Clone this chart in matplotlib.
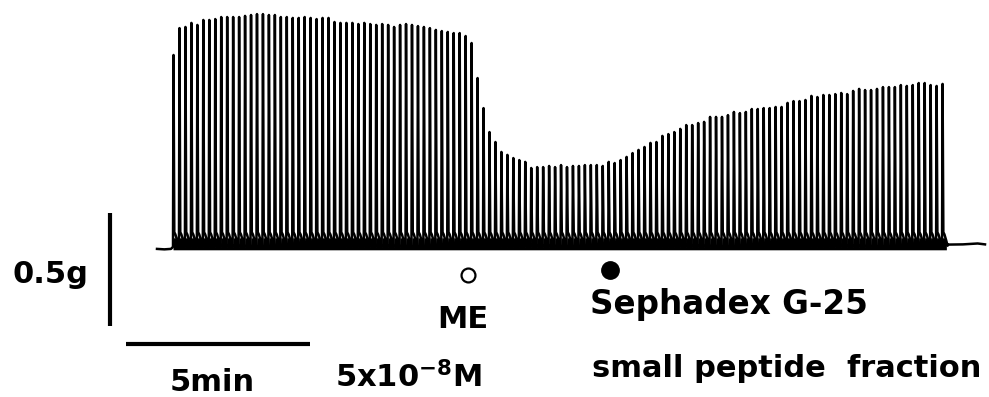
import numpy as np
import matplotlib.pyplot as plt

# peak amplitude of each twitch (g), one every 10 s
peak_g = [
    0.854, 0.973, 0.978, 0.996, 0.987, 1.009, 1.009, 1.013, 1.022, 1.022,
    1.022, 1.022, 1.027, 1.031, 1.035, 1.035, 1.031, 1.031, 1.022, 1.022,
    1.018, 1.018, 1.022, 1.018, 1.013, 1.018, 1.018, 1.000, 0.996, 0.996,
    0.996, 0.991, 0.996, 0.991, 0.987, 0.991, 0.987, 0.978, 0.987, 0.991,
    0.987, 0.982, 0.978, 0.973, 0.965, 0.960, 0.956, 0.951, 0.951, 0.938,
    0.907, 0.752, 0.619, 0.513, 0.469, 0.425, 0.412, 0.398, 0.389, 0.381,
    0.354, 0.358, 0.358, 0.363, 0.358, 0.367, 0.358, 0.363, 0.363, 0.367,
    0.367, 0.367, 0.363, 0.381, 0.376, 0.389, 0.403, 0.420, 0.434, 0.447,
    0.465, 0.469, 0.496, 0.504, 0.513, 0.527, 0.544, 0.544, 0.553, 0.558,
    0.580, 0.580, 0.580, 0.588, 0.602, 0.597, 0.602, 0.615, 0.615, 0.619,
    0.619, 0.624, 0.624, 0.642, 0.650, 0.650, 0.655, 0.673, 0.668, 0.677,
    0.677, 0.681, 0.686, 0.681, 0.695, 0.704, 0.699, 0.699, 0.704, 0.712,
    0.712, 0.712, 0.721, 0.717, 0.721, 0.730, 0.730, 0.721, 0.717, 0.726,
]
first_spike = 0.435   # min
period = 0.162        # min between stimuli

# resting tension before and after the train (min, g)
pre_t = [0.0, 0.2, 0.38]
pre_g = [-0.004, -0.006, -0.004]
post_t = [21.45, 21.9, 22.3, 22.5]
post_g = [0.015, 0.016, 0.020, 0.016]

me_time, me_level = 8.45, -0.119      # ME 5x10^-8 M
seph_time, seph_level = 12.31, -0.097  # Sephadex G-25 small peptide fraction

# build the pen trace: sharp twitch, then a small slow tail
tx = list(pre_t)
ty = list(pre_g)
for i, a in enumerate(peak_g):
    ts = first_spike + i * period
    tx += [ts, ts + 0.014, ts + 0.035, ts + 0.065, ts + 0.11, ts + 0.15]
    ty += [0.005, a, 0.07, 0.06, 0.035, 0.01]
tx += post_t
ty += post_g
tx = np.array(tx)
ty = np.array(ty)

fig = plt.figure(figsize=(9.89, 3.97), dpi=100)
ax = fig.add_axes([0, 0, 1, 1])
ax.set_xlim(-157 / 36.8, (989 - 157) / 36.8)
ax.set_ylim((248 - 397) / 226, 248 / 226)
ax.axis('off')

# dense ink at the foot of the twitches
train = (tx >= first_spike) & (tx <= first_spike + len(peak_g) * period)
ax.fill_between(tx[train], -0.008, np.minimum(ty[train], 0.045), color='black', lw=0)
ax.plot(tx, ty, color='black', lw=1.8, solid_joinstyle='round')

# markers for drug application
ax.plot(me_time, me_level, 'o', ms=10, mfc='white', mec='black', mew=1.6)
ax.plot(seph_time, seph_level, 'o', ms=12.5, color='black')

# scale bars: 0.5 g and 5 min
ax.plot([-1.277, -1.277], [0.155, -0.345], color='black', lw=3, solid_capstyle='butt')
ax.plot([-0.842, 4.158], [-0.425, -0.425], color='black', lw=3, solid_capstyle='butt')


def px(x, y):
    return x / 989, 1 - y / 397


font = dict(family='DejaVu Sans', fontweight='bold', fontsize=22, color='black', va='baseline')
fig.text(*px(88, 283), '0.5g', ha='right', **font)
fig.text(*px(212, 391), '5min', ha='center', **font)
fig.text(*px(463, 328), 'ME', ha='center', **font)
fig.text(*px(335, 387), r'5x10$^{\mathbf{-8}}$M', ha='left', **font)
fig.text(*px(590, 314), 'Sephadex G-25', ha='left', **{**font, 'fontsize': 23.5})
fig.text(*px(592, 377), 'small peptide  fraction', ha='left', **font)

fig.savefig('out.png', dpi=100)
